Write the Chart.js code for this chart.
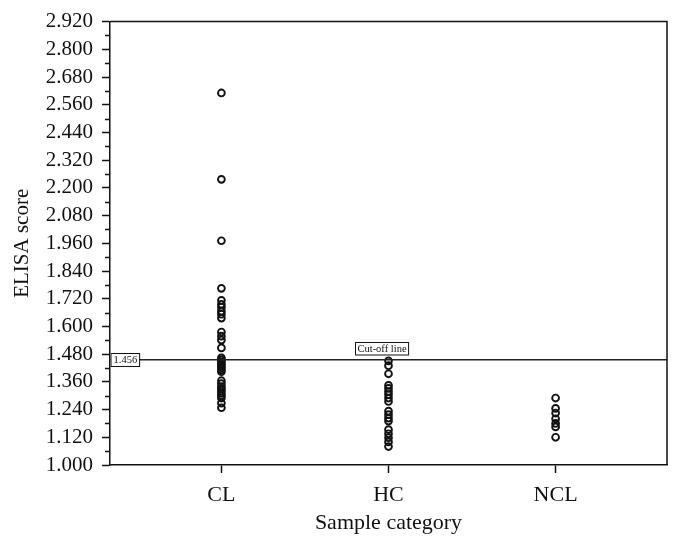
<!DOCTYPE html>
<html><head><meta charset="utf-8">
<script src="https://cdn.jsdelivr.net/npm/chart.js@4.4.1/dist/chart.umd.min.js"></script>
<style>html,body{margin:0;padding:0;background:#fff;}#wrap{width:684px;height:549px;}</style>
</head><body><div id="wrap"><canvas id="c" width="684" height="549"></canvas></div>
<script>
const categories = ['CL', 'HC', 'NCL'];
const clScores = [2.611, 2.237, 1.971, 1.765, 1.713, 1.696, 1.683, 1.666, 1.653, 1.636,
  1.576, 1.558, 1.541, 1.507, 1.464, 1.455, 1.447, 1.438, 1.430, 1.421, 1.412, 1.404,
  1.365, 1.352, 1.340, 1.330, 1.320, 1.310, 1.300, 1.290, 1.268, 1.248];
const hcScores = [1.451, 1.430, 1.395, 1.345, 1.332, 1.318, 1.305, 1.290, 1.275,
  1.233, 1.218, 1.203, 1.190, 1.153, 1.135, 1.118, 1.100, 1.080];
const nclScores = [1.290, 1.245, 1.225, 1.200, 1.180, 1.165, 1.120];
const cutoff = 1.456;
const cutoffText = 'Cut-off line';
const yMin = 1.000, yMax = 2.920, yStep = 0.06;
const xTitle = 'Sample category';
const yTitle = 'ELISA score';

const FAM = "'Liberation Serif', 'Times New Roman', serif";
const INK = '#111';
const series = [clScores, hcScores, nclScores];

const framePlugin = {
  id: 'frame',
  afterDraw(chart) {
    const {ctx, chartArea: a, scales} = chart;
    ctx.save();
    ctx.strokeStyle = INK; ctx.lineWidth = 1.5;
    ctx.beginPath();
    ctx.moveTo(a.left, a.top); ctx.lineTo(a.right, a.top); ctx.lineTo(a.right, a.bottom);
    ctx.stroke();
    const ys = scales.y;
    ctx.beginPath();
    ys.ticks.forEach((t, i) => {
      if (i % 2 === 1) {
        const p = Math.round(ys.getPixelForValue(t.value)) + 0.5;
        ctx.moveTo(a.left - 5, p); ctx.lineTo(a.left, p);
      }
    });
    ctx.stroke();
    ctx.restore();
  }
};

const cutoffPlugin = {
  id: 'cutoff',
  afterDatasetsDraw(chart) {
    const {ctx, chartArea: a, scales} = chart;
    const y = scales.y.getPixelForValue(cutoff);
    ctx.save();
    ctx.strokeStyle = '#222'; ctx.lineWidth = 1.5;
    ctx.beginPath(); ctx.moveTo(a.left, y); ctx.lineTo(a.right, y); ctx.stroke();
    ctx.font = "10.5px " + FAM;
    ctx.textBaseline = 'middle';
    ctx.lineWidth = 1;
    const vt = cutoff.toFixed(3);
    let w = ctx.measureText(vt).width + 5, h = 13;
    let bx = a.left + 0.5, by = y - h / 2;
    ctx.fillStyle = '#fff'; ctx.fillRect(bx, by, w, h);
    ctx.strokeStyle = INK; ctx.strokeRect(bx + 0.5, Math.round(by) + 0.5, w, h);
    ctx.fillStyle = INK; ctx.textAlign = 'left';
    ctx.fillText(vt, bx + 3, y + 0.5);
    w = ctx.measureText(cutoffText).width + 4; h = 12.5;
    const cx = scales.x.getPixelForValue(2) - 7;
    bx = cx - w / 2; by = y - 5 - h;
    ctx.fillStyle = '#fff'; ctx.fillRect(bx, by, w, h);
    ctx.strokeStyle = INK; ctx.strokeRect(Math.round(bx) + 0.5, Math.round(by) + 0.5, w, h);
    ctx.fillStyle = INK; ctx.textAlign = 'center';
    ctx.fillText(cutoffText, cx + 0.5, by + h / 2 + 1);
    ctx.restore();
  }
};

new Chart(document.getElementById('c'), {
  type: 'scatter',
  data: {
    datasets: series.map((arr, i) => ({
      label: categories[i],
      data: arr.map(v => ({x: i + 1, y: v})),
      pointStyle: 'circle',
      pointRadius: 3.4,
      pointHoverRadius: 3.4,
      pointBorderWidth: 1.9,
      pointBorderColor: INK,
      pointBackgroundColor: 'rgba(0,0,0,0)',
      showLine: false
    }))
  },
  options: {
    responsive: false,
    animation: false,
    events: [],
    layout: {padding: {left: 0, right: 17, top: 18, bottom: 0}},
    plugins: {legend: {display: false}, tooltip: {enabled: false}},
    scales: {
      x: {
        type: 'linear', min: 1 / 3, max: 11 / 3,
        afterBuildTicks: s => { s.ticks = categories.map((c, i) => ({value: i + 1})); },
        ticks: {
          callback: v => categories[Math.round(v) - 1] || '',
          font: {family: FAM, size: 22}, color: INK, padding: 9,
          maxRotation: 0, autoSkip: false
        },
        grid: {drawOnChartArea: false, drawTicks: true, tickLength: 8, tickColor: INK, tickWidth: 1.5},
        border: {color: INK, width: 1.5},
        title: {display: true, text: xTitle, font: {family: FAM, size: 22}, color: INK, padding: {top: 0, bottom: 13}},
        afterFit: s => { s.height = 84; }
      },
      y: {
        min: yMin, max: yMax,
        ticks: {
          stepSize: yStep,
          callback: (v, i) => (i % 2 === 0 ? v.toFixed(3) : ''),
          font: {family: FAM, size: 21}, color: INK, padding: 9, autoSkip: false
        },
        grid: {
          drawOnChartArea: false, tickLength: 8, tickWidth: 1.5,
          tickColor: c => (c.index % 2 === 0 ? INK : 'rgba(0,0,0,0)')
        },
        border: {color: INK, width: 1.5},
        title: {display: true, text: yTitle, font: {family: FAM, size: 21}, color: INK, padding: {top: 10, bottom: 0}},
        afterFit: s => { s.width = 110; }
      }
    }
  },
  plugins: [framePlugin, cutoffPlugin]
});
</script></body></html>
